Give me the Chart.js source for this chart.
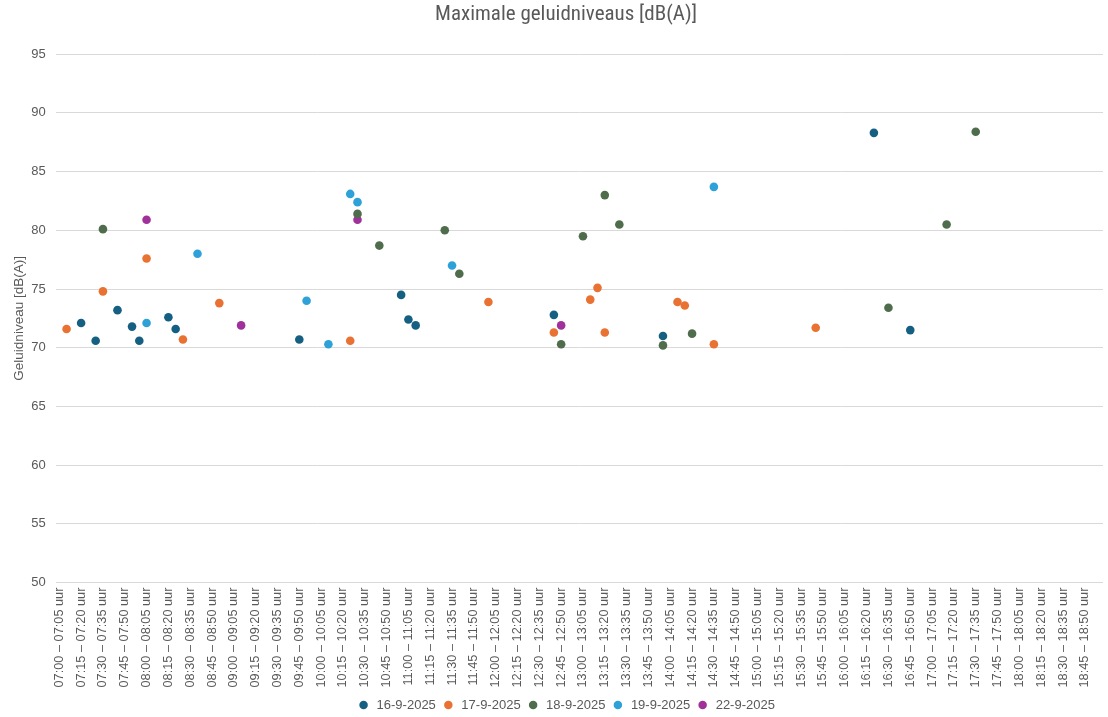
<!DOCTYPE html>
<html>
<head>
<meta charset="utf-8">
<script src="https://cdn.jsdelivr.net/npm/chart.js@4.4.1/dist/chart.umd.min.js"></script>
<style>
  html, body { margin: 0; padding: 0; background: #fff; }
</style>
</head>
<body>
<canvas id="chart1" width="1108" height="717"></canvas>
<script>
// 5-minute bins from 07:00 to 18:55, label shown every 15 minutes
var firstSlot = '07:00';
var slotCount = 144;
var titleText = 'Maximale geluidniveaus [dB(A)]';
var yTitle = 'Geluidniveau [dB(A)]';

var times16 = ['07:15', '07:25', '07:40', '07:50', '07:55', '08:15', '08:20', '09:45', '10:55', '11:00', '11:05', '12:40', '13:55', '16:20', '16:45'];
var values16 = [72.1, 70.6, 73.2, 71.8, 70.6, 72.6, 71.6, 70.7, 74.5, 72.4, 71.9, 72.8, 71.0, 88.3, 71.5];

var times17 = ['07:05', '07:30', '08:00', '08:25', '08:50', '10:20', '11:55', '12:40', '13:05', '13:10', '13:15', '14:05', '14:10', '14:30', '15:40'];
var values17 = [71.6, 74.8, 77.6, 70.7, 73.8, 70.6, 73.9, 71.3, 74.1, 75.1, 71.3, 73.9, 73.6, 70.3, 71.7];

var times18 = ['07:30', '10:25', '10:40', '11:25', '11:35', '12:45', '13:00', '13:15', '13:25', '13:55', '14:15', '16:30', '17:10', '17:30'];
var values18 = [80.1, 81.4, 78.7, 80.0, 76.3, 70.3, 79.5, 83.0, 80.5, 70.2, 71.2, 73.4, 80.5, 88.4];

var times19 = ['08:00', '08:35', '09:50', '10:05', '10:20', '10:25', '11:30', '14:30'];
var values19 = [72.1, 78.0, 74.0, 70.3, 83.1, 82.4, 77.0, 83.7];

var times22 = ['08:00', '09:05', '10:25', '12:45'];
var values22 = [80.9, 71.9, 80.9, 71.9];

function pad(n) { return (n < 10 ? '0' : '') + n; }
function slotLabel(minutes) {
    var a = minutes, b = minutes + 5;
    return pad(Math.floor(a / 60)) + ':' + pad(a % 60) + ' \u2013 ' + pad(Math.floor(b / 60)) + ':' + pad(b % 60) + ' uur';
}
function toMinutes(t) {
    var p = t.split(':');
    return parseInt(p[0], 10) * 60 + parseInt(p[1], 10);
}

var start = toMinutes(firstSlot);
var labels = [];
for (var i = 0; i < slotCount; i++) {
    labels.push(slotLabel(start + i * 5));
}

function points(times, values) {
    return times.map(function(t, i) {
        return { x: slotLabel(toMinutes(t)), y: values[i] };
    });
}

function series(name, times, values, color) {
    return {
        label: name,
        data: points(times, values),
        showLine: false,
        backgroundColor: color,
        borderColor: color,
        pointBackgroundColor: color,
        pointBorderColor: color,
        pointBorderWidth: 0,
        pointRadius: 4.3,
        pointHoverRadius: 5
    };
}

var grey = '#595959';
var sans = "'Liberation Sans', Arial, sans-serif";

var ctx = document.getElementById('chart1').getContext('2d');
var chart1 = new Chart(ctx, {
    type: 'line',
    data: {
        labels: labels,
        datasets: [
            series('16-9-2025', times16, values16, '#156082'),
            series('17-9-2025', times17, values17, '#e97132'),
            series('18-9-2025', times18, values18, '#4f6d4c'),
            series('19-9-2025', times19, values19, '#2ea2d8'),
            series('22-9-2025', times22, values22, '#a0309a')
        ]
    },
    options: {
        responsive: false,
        animation: false,
        layout: { padding: { left: 11, right: -13, top: 0, bottom: -4.5 } },
        plugins: {
            title: {
                display: true,
                text: titleText,
                color: grey,
                font: { family: "'Roboto Condensed', 'Liberation Sans', sans-serif", size: 21, weight: 'normal' },
                padding: { top: 2.5, bottom: 26.5 }
            },
            legend: {
                position: 'bottom',
                labels: {
                    usePointStyle: true,
                    pointStyle: 'circle',
                    boxWidth: 13,
                    boxHeight: 6,
                    padding: 6,
                    color: grey,
                    font: { family: sans, size: 13 }
                }
            },
            tooltip: { enabled: false }
        },
        scales: {
            x: {
                offset: true,
                grid: { display: false, drawTicks: false },
                border: { display: false },
                ticks: {
                    autoSkip: false,
                    maxRotation: 90,
                    minRotation: 90,
                    padding: 5,
                    color: grey,
                    font: { family: sans, size: 12.75, lineHeight: 0.16 },
                    callback: function(value, index) {
                        return index % 3 === 0 ? this.getLabelForValue(value) : '';
                    }
                }
            },
            y: {
                min: 50,
                max: 95,
                grid: { color: '#d9d9d9', drawTicks: false },
                border: { display: false },
                ticks: {
                    stepSize: 5,
                    padding: 10,
                    color: grey,
                    font: { family: sans, size: 13 }
                },
                title: {
                    display: true,
                    text: yTitle,
                    color: grey,
                    padding: { top: 0, bottom: -6 },
                    font: { family: sans, size: 13.5 }
                }
            }
        }
    }
});
</script>
</body>
</html>
